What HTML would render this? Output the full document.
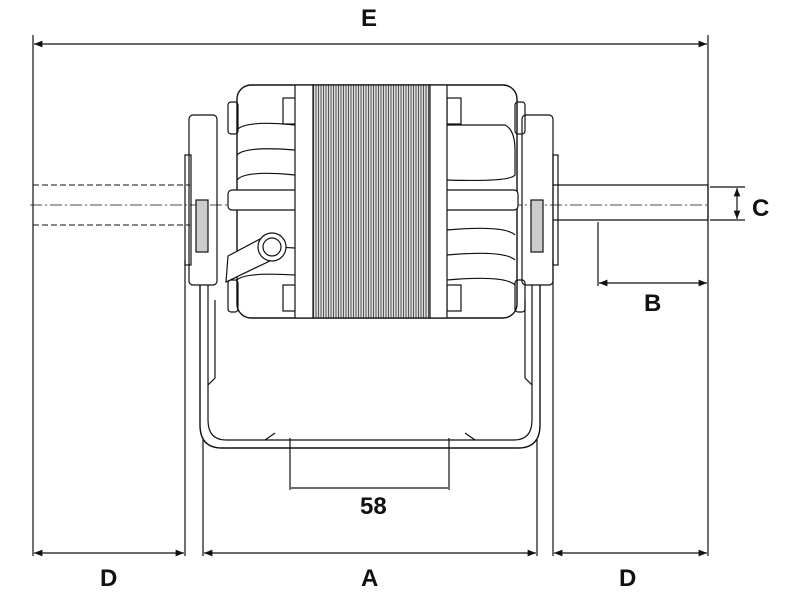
<!DOCTYPE html>
<html><head><style>
html,body{margin:0;padding:0;background:#fff;width:800px;height:615px;overflow:hidden}
text{font-family:"Liberation Sans",Arial,sans-serif;font-weight:bold;font-size:24px;fill:#111}
</style></head><body>
<svg width="800" height="615" viewBox="0 0 800 615" xmlns="http://www.w3.org/2000/svg">
<defs>
<marker id="a" viewBox="0 0 10 10" refX="10" refY="5" markerWidth="7" markerHeight="7" orient="auto-start-reverse"><path d="M0,1 L10,5 L0,9 z" fill="#111"/></marker>
<pattern id="h" width="2.5" height="10" patternUnits="userSpaceOnUse"><rect width="2.5" height="10" fill="#ddd"/><line x1="1" y1="0" x2="1" y2="10" stroke="#444" stroke-width="0.9"/></pattern>
</defs>
<g stroke="#111" fill="none" stroke-width="1.2">
<line x1="33" y1="35" x2="33" y2="556"/>
<line x1="708" y1="35" x2="708" y2="556"/>
<line x1="185" y1="260" x2="185" y2="556"/>
<line x1="203" y1="440" x2="203" y2="556"/>
<line x1="537" y1="440" x2="537" y2="556"/>
<line x1="553" y1="260" x2="553" y2="556"/>
<line x1="290" y1="438" x2="290" y2="490"/>
<line x1="449" y1="438" x2="449" y2="490"/>
<line x1="34" y1="44" x2="707" y2="44" marker-start="url(#a)" marker-end="url(#a)"/>
<line x1="34" y1="553" x2="184" y2="553" marker-start="url(#a)" marker-end="url(#a)"/>
<line x1="204" y1="553" x2="536" y2="553" marker-start="url(#a)" marker-end="url(#a)"/>
<line x1="554" y1="553" x2="707" y2="553" marker-start="url(#a)" marker-end="url(#a)"/>
<line x1="291" y1="488" x2="448" y2="488"/>
<line x1="598" y1="222" x2="598" y2="286"/>
<line x1="599" y1="283" x2="707" y2="283" marker-start="url(#a)" marker-end="url(#a)"/>
<line x1="710" y1="187" x2="745" y2="187"/>
<line x1="710" y1="220" x2="745" y2="220"/>
<line x1="737" y1="188" x2="737" y2="219" marker-start="url(#a)" marker-end="url(#a)"/>
<path d="M33,185 H190 M33,225 H190" stroke-dasharray="6 3" stroke-width="1"/>
<path d="M553,185 H708 V220 H553"/>
<line x1="30" y1="205" x2="710" y2="205" stroke-dasharray="12 3 2 3" stroke-width="0.8"/>
<path d="M200,285 V425 Q200,448 222,448 H518 Q540,448 540,425 V285" stroke-width="1.4"/>
<path d="M208,285 V420 Q208,440 226,440 H514 Q532,440 532,420 V285"/>
<path d="M208,385 L215,378 V300 M532,385 L525,378 V300"/>
<path d="M265,440 L275,433 M475,440 L465,433"/>
<rect x="189" y="115" width="28" height="170" rx="4"/>
<rect x="522" y="115" width="31" height="170" rx="4"/>
<rect x="196" y="200" width="12" height="52" fill="#ccc"/>
<rect x="531" y="200" width="12" height="52" fill="#ccc"/>
<rect x="185" y="155" width="6" height="110"/>
<rect x="553" y="155" width="5" height="110"/>
<rect x="237" y="85" width="280" height="233" rx="14" fill="#fff" stroke-width="1.4"/>
<path d="M237,130 Q245,120 295,125 M237,155 Q245,146 295,150 M237,180 Q245,170 295,175 M237,255 Q245,245 295,248 M237,280 Q245,272 295,275"/>
<path d="M447,125 H505 Q515,130 515,150 V175 Q510,182 447,180 M447,230 Q505,225 515,235 M447,255 Q505,250 515,260 M447,280 Q505,275 515,285"/>
<rect x="228" y="190" width="70" height="20" rx="4" fill="#fff"/>
<rect x="440" y="190" width="78" height="20" rx="4" fill="#fff"/>
<rect x="228" y="102" width="10" height="32" rx="3"/>
<rect x="228" y="280" width="10" height="32" rx="3"/>
<rect x="515" y="102" width="10" height="32" rx="3"/>
<rect x="515" y="280" width="10" height="32" rx="3"/>
<rect x="283" y="98" width="14" height="26"/>
<rect x="283" y="285" width="14" height="26"/>
<rect x="447" y="98" width="14" height="26"/>
<rect x="447" y="285" width="14" height="26"/>
<rect x="313" y="85" width="117" height="233" fill="url(#h)"/>
<rect x="295" y="85" width="18" height="233" fill="#fff"/>
<rect x="430" y="85" width="17" height="233" fill="#fff"/>
<path d="M228,256 L262,238 L276,258 L226,282 Z" fill="#fff"/>
<circle cx="272" cy="247" r="14" fill="#fff"/>
<circle cx="272" cy="247" r="9"/>
</g>
<text x="361" y="26">E</text>
<text x="100" y="586">D</text>
<text x="361" y="586">A</text>
<text x="619" y="586">D</text>
<text x="360" y="514">58</text>
<text x="644" y="311">B</text>
<text x="752" y="216">C</text>
</svg>
</body></html>
